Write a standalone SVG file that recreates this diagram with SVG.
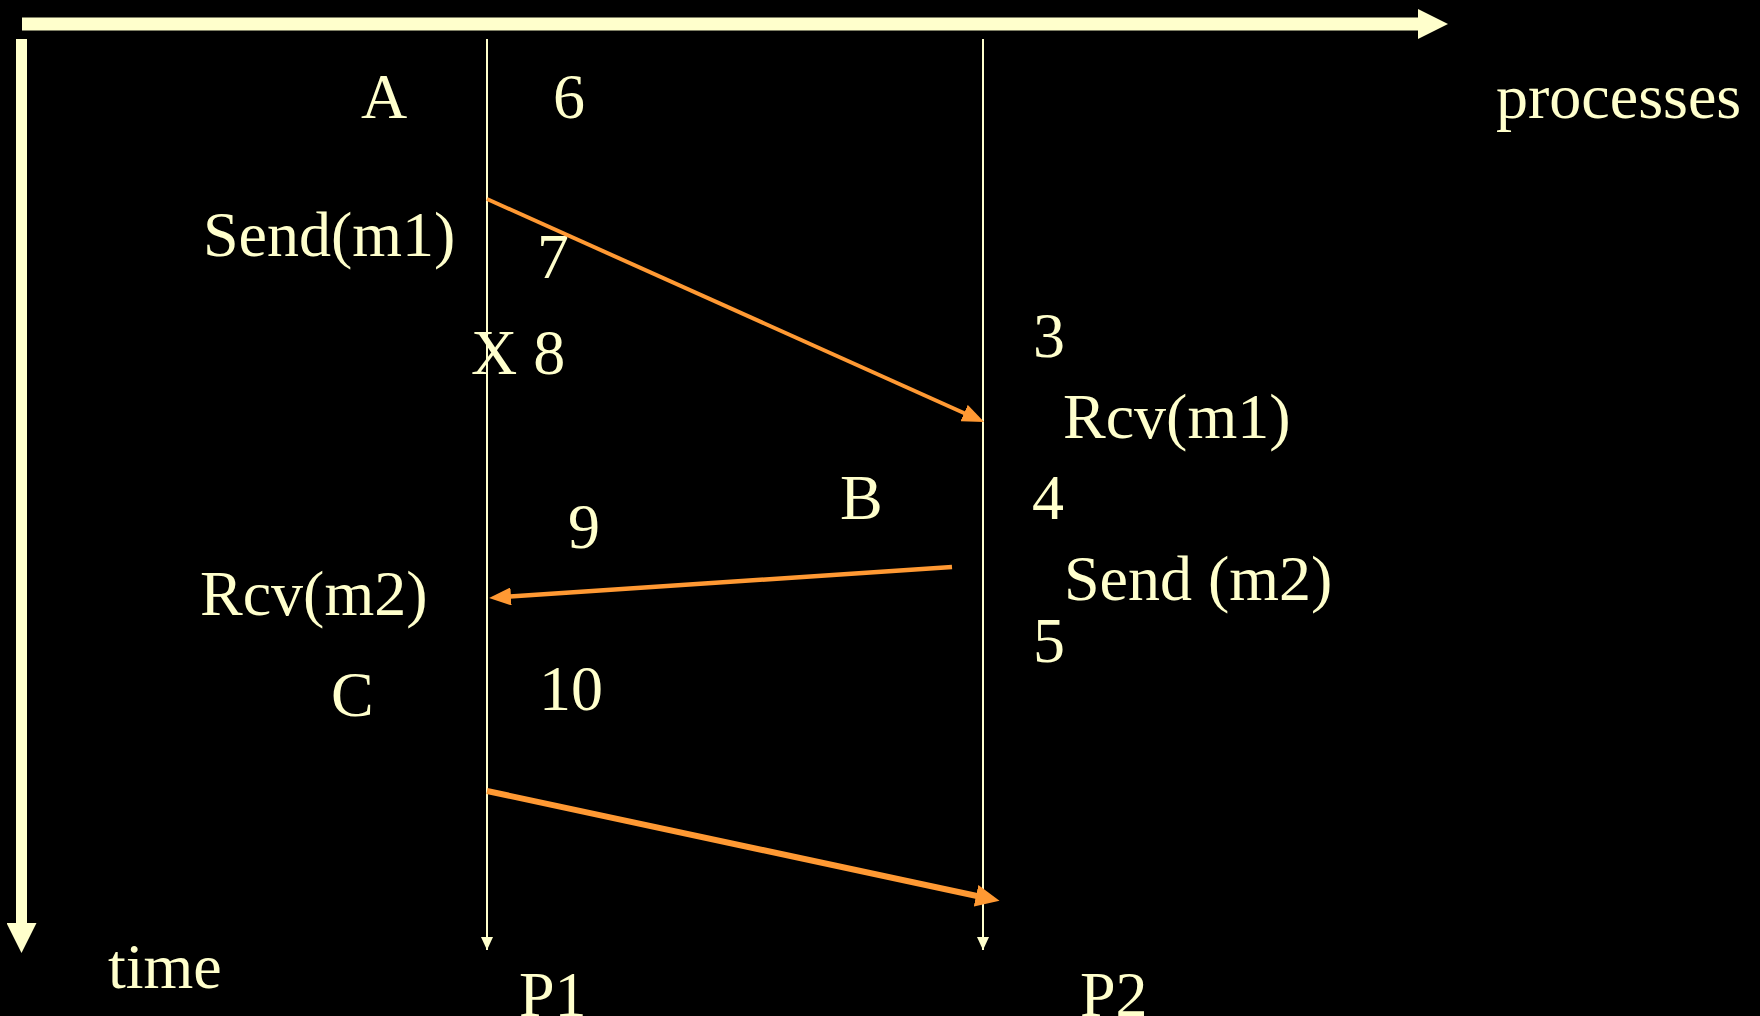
<svg xmlns="http://www.w3.org/2000/svg" width="1760" height="1016" viewBox="0 0 1760 1016">
  <defs>
    <style>
      .lbl { font-family: "Liberation Serif", "Times New Roman", serif; font-size: 64px; fill: #FFFFCC; }
      .axis { stroke: #FFFFCC; fill: none; }
      .proc { stroke: #FFFFCC; stroke-width: 2; fill: none; }
      .msg { stroke: #FF9933; fill: none; }
    </style>
    <marker id="axisHead" markerUnits="userSpaceOnUse" viewBox="0 0 30 30" markerWidth="30" markerHeight="30" refX="0" refY="15" orient="auto">
      <path d="M0,0 L30,15 L0,30 z" fill="#FFFFCC"/>
    </marker>
    <marker id="procHead" markerUnits="userSpaceOnUse" viewBox="0 0 13 12" markerWidth="13" markerHeight="12" refX="13" refY="6" orient="auto">
      <path d="M0,0 L13,6 L0,12 z" fill="#FFFFCC"/>
    </marker>
    <marker id="msgHead" markerUnits="userSpaceOnUse" viewBox="0 0 22 18" markerWidth="22" markerHeight="18" refX="1" refY="9" orient="auto">
      <path d="M0,0 L22,9 L0,18 z" fill="#FF9933"/>
    </marker>
    <marker id="msgHeadBig" markerUnits="userSpaceOnUse" viewBox="0 0 24 22" markerWidth="24" markerHeight="22" refX="1" refY="11" orient="auto">
      <path d="M0,0 L24,11 L0,22 z" fill="#FF9933"/>
    </marker>
  </defs>
  <rect width="1760" height="1016" fill="#000000"/>

  <g id="axes">
    <line class="axis" x1="22" y1="24" x2="1418" y2="24" stroke-width="13" marker-end="url(#axisHead)"/>
    <line class="axis" x1="21.5" y1="39" x2="21.5" y2="923" stroke-width="11" marker-end="url(#axisHead)"/>
    <text class="lbl" x="1496" y="118">processes</text>
    <text class="lbl" x="108" y="988">time</text>
  </g>

  <g id="P1">
    <line class="proc" x1="487" y1="39" x2="487" y2="950" marker-end="url(#procHead)"/>
    <text class="lbl" x="519" y="1016">P1</text>
  </g>
  <g id="P2">
    <line class="proc" x1="983" y1="39" x2="983" y2="950" marker-end="url(#procHead)"/>
    <text class="lbl" x="1080" y="1016">P2</text>
  </g>

  <g id="P1-labels">
    <text class="lbl" x="361" y="118">A</text>
    <text class="lbl" x="553" y="118">6</text>
    <text class="lbl" x="203" y="256">Send(m1)</text>
    <text class="lbl" x="537" y="278">7</text>
    <text class="lbl" x="471" y="374">X 8</text>
    <text class="lbl" x="568" y="548">9</text>
    <text class="lbl" x="200" y="615">Rcv(m2)</text>
    <text class="lbl" x="331" y="716">C</text>
    <text class="lbl" x="539" y="710">10</text>
  </g>

  <g id="P2-labels">
    <text class="lbl" x="1033" y="357">3</text>
    <text class="lbl" x="1063" y="438">Rcv(m1)</text>
    <text class="lbl" x="840" y="519">B</text>
    <text class="lbl" x="1032" y="519">4</text>
    <text class="lbl" x="1064" y="600">Send (m2)</text>
    <text class="lbl" x="1033" y="662">5</text>
  </g>

  <g id="connectors">
    <line class="msg" x1="487" y1="199" x2="965" y2="413.5" stroke-width="4" marker-end="url(#msgHead)"/>
    <line class="msg" x1="952" y1="567" x2="510" y2="596.5" stroke-width="4.5" marker-end="url(#msgHead)"/>
    <line class="msg" x1="487" y1="791" x2="977" y2="896" stroke-width="6" marker-end="url(#msgHeadBig)"/>
  </g>
</svg>
